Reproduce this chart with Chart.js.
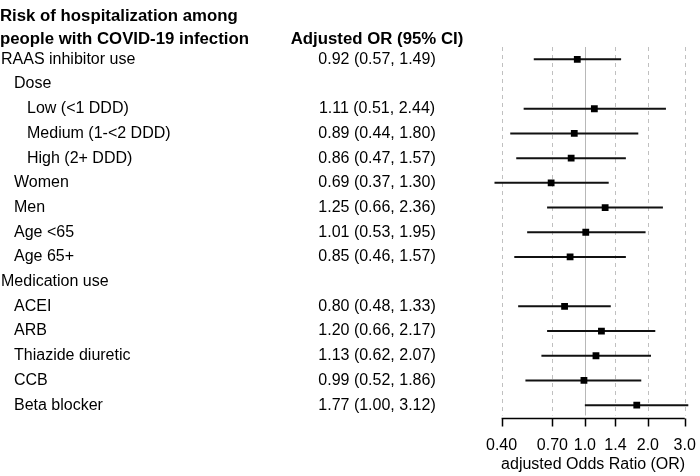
<!DOCTYPE html>
<html>
<head>
<meta charset="utf-8">
<script src="https://cdn.jsdelivr.net/npm/chart.js@4.4.1/dist/chart.umd.min.js"></script>
<style>
    html, body { margin: 0; padding: 0; background: #ffffff; }
    #forestChart { display: block; }
</style>
</head>
<body>
<canvas id="forestChart" width="700" height="476"></canvas>
<script>
// Forest plot data
const rowLabels = [
    'RAAS inhibitor use', 'Dose', 'Low (<1 DDD)', 'Medium (1-<2 DDD)', 'High (2+ DDD)',
    'Women', 'Men', 'Age <65', 'Age 65+', 'Medication use',
    'ACEI', 'ARB', 'Thiazide diuretic', 'CCB', 'Beta blocker'
];
const rowLevel = [0, 1, 2, 2, 2, 1, 1, 1, 1, 0, 1, 1, 1, 1, 1];
const oddsRatio = [0.92, null, 1.11, 0.89, 0.86, 0.69, 1.25, 1.01, 0.85, null, 0.80, 1.20, 1.13, 0.99, 1.77];
const ciLower = [0.57, null, 0.51, 0.44, 0.47, 0.37, 0.66, 0.53, 0.46, null, 0.48, 0.66, 0.62, 0.52, 1.00];
const ciUpper = [1.49, null, 2.44, 1.80, 1.57, 1.30, 2.36, 1.95, 1.57, null, 1.33, 2.17, 2.07, 1.86, 3.12];
const tickValues = [0.4, 0.7, 1.0, 1.4, 2.0, 3.0];
const tickLabels = ['0.40', '0.70', '1.0', '1.4', '2.0', '3.0'];
const titleLines = ['Risk of hospitalization among', 'people with COVID-19 infection'];
const estimateHeader = 'Adjusted OR (95% CI)';
const axisTitle = 'adjusted Odds Ratio (OR)';

const FONT = '"Liberation Sans", Arial, Helvetica, sans-serif';

// Format "0.92 (0.57, 1.49)"
const formatEstimate = (i) => {
    if (oddsRatio[i] === null) return '';
    return `${oddsRatio[i].toFixed(2)} (${ciLower[i].toFixed(2)}, ${ciUpper[i].toFixed(2)})`;
};

// Build datasets: one line per confidence interval, one scatter for the estimates
const ciDatasets = [];
oddsRatio.forEach((v, i) => {
    if (v === null) return;
    ciDatasets.push({
        type: 'line',
        data: [{ x: ciLower[i], y: i }, { x: ciUpper[i], y: i }],
        borderColor: '#111111',
        borderWidth: 2,
        pointRadius: 0,
        order: 2
    });
});

const pointData = [];
oddsRatio.forEach((v, i) => {
    if (v !== null) pointData.push({ x: v, y: i });
});

// Plugin: reference lines behind the marks
const gridPlugin = {
    id: 'forestGrid',
    beforeDatasetsDraw: (chart) => {
        const ctx = chart.ctx;
        const xScale = chart.scales.x;
        const area = chart.chartArea;
        ctx.save();
        tickValues.forEach((t) => {
            const px = Math.round(xScale.getPixelForValue(t)) + 0.5;
            ctx.beginPath();
            if (t === 1.0) {
                ctx.setLineDash([]);
                ctx.strokeStyle = '#b8b8b8';
            } else {
                ctx.setLineDash([4, 4]);
                ctx.strokeStyle = '#c0c0c0';
            }
            ctx.lineWidth = 1;
            ctx.moveTo(px, area.top);
            ctx.lineTo(px, area.bottom - 2);
            ctx.stroke();
        });
        ctx.restore();
    }
};

// Plugin: text columns and bottom axis
const textPlugin = {
    id: 'forestText',
    afterDraw: (chart) => {
        const ctx = chart.ctx;
        const xScale = chart.scales.x;
        const yScale = chart.scales.y;
        const area = chart.chartArea;
        const estimateX = 377;

        ctx.save();
        ctx.fillStyle = '#000000';
        ctx.textBaseline = 'middle';

        // Header
        ctx.font = `bold 16.8px ${FONT}`;
        ctx.textAlign = 'left';
        ctx.fillText(titleLines[0], 0, 16);
        ctx.fillText(titleLines[1], 0, 39);
        ctx.textAlign = 'center';
        ctx.fillText(estimateHeader, estimateX, 39);

        // Rows
        ctx.font = `16px ${FONT}`;
        rowLabels.forEach((label, i) => {
            const py = yScale.getPixelForValue(i);
            ctx.textAlign = 'left';
            ctx.fillText(label, 1 + rowLevel[i] * 13, py);
            ctx.textAlign = 'center';
            ctx.fillText(formatEstimate(i), estimateX, py);
        });

        // Axis line and ticks
        const axisY = Math.round(area.bottom) + 0.5;
        const x0 = xScale.getPixelForValue(tickValues[0]);
        const x1 = xScale.getPixelForValue(tickValues[tickValues.length - 1]);
        ctx.strokeStyle = '#000000';
        ctx.lineWidth = 1.5;
        ctx.beginPath();
        ctx.moveTo(x0, axisY);
        ctx.lineTo(x1, axisY);
        tickValues.forEach((t) => {
            const px = Math.round(xScale.getPixelForValue(t)) + 0.5;
            ctx.moveTo(px, axisY);
            ctx.lineTo(px, axisY + 8);
        });
        ctx.stroke();

        // Tick labels and title
        tickValues.forEach((t, i) => {
            ctx.fillText(tickLabels[i], xScale.getPixelForValue(t), axisY + 27);
        });
        ctx.fillText(axisTitle, (x0 + x1) / 2, axisY + 46);
        ctx.restore();
    }
};

const forestChart = {
    init: () => {
        const canvas = document.getElementById('forestChart');
        if (!canvas) return;

        new Chart(canvas, {
            type: 'scatter',
            data: {
                datasets: [
                    {
                        type: 'scatter',
                        data: pointData,
                        pointStyle: 'rect',
                        pointRadius: 4.8,
                        pointBorderWidth: 0,
                        backgroundColor: '#000000',
                        borderColor: '#000000',
                        order: 1
                    },
                    ...ciDatasets
                ]
            },
            options: {
                responsive: false,
                animation: false,
                devicePixelRatio: 1,
                layout: {
                    padding: { left: 492, right: 8, top: 47, bottom: 58.5 }
                },
                plugins: {
                    legend: { display: false },
                    tooltip: { enabled: false }
                },
                scales: {
                    x: {
                        type: 'logarithmic',
                        min: 0.36,
                        max: 3.25,
                        display: false
                    },
                    y: {
                        type: 'linear',
                        min: -0.5,
                        max: 14.5,
                        reverse: true,
                        display: false
                    }
                }
            },
            plugins: [gridPlugin, textPlugin]
        });
    }
};

document.addEventListener('DOMContentLoaded', () => {
    forestChart.init();
});
</script>
</body>
</html>
